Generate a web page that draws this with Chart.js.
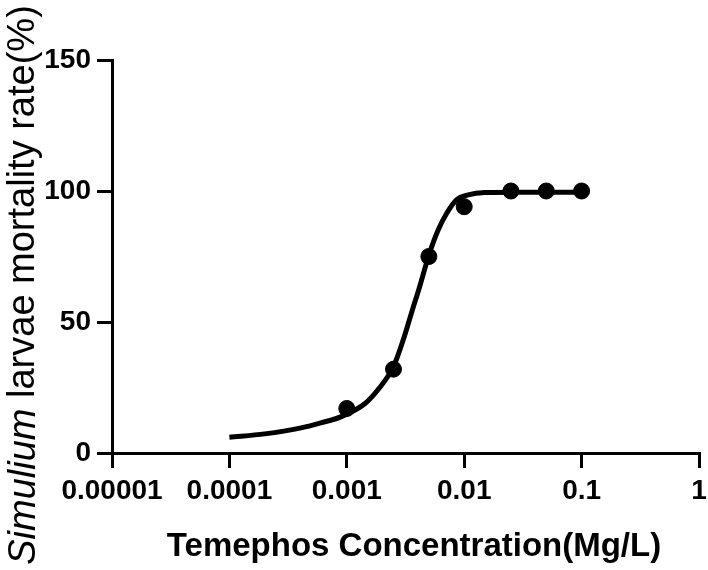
<!DOCTYPE html>
<html lang="en">
<head>
  <meta charset="UTF-8">
  <title>Temephos dose response</title>
  <script src="https://cdn.jsdelivr.net/npm/chart.js"></script>
  <style>
    body { margin: 0; background: #fff; }
    #wrap { width: 708px; height: 570px; }
  </style>
</head>
<body>
<div id="wrap"><canvas id="chart"></canvas></div>
<script>
  // observed points
  const concentration = [0.001, 0.0025, 0.005, 0.01, 0.025, 0.05, 0.1];
  const mortality = [17, 32, 75, 94, 100, 100, 100];

  // fitted curve
  const fitX = [0.0001, 0.0002, 0.0004, 0.0006, 0.0009, 0.00144, 0.00187, 0.0025, 0.00304, 0.00362, 0.00413, 0.005, 0.006, 0.0071, 0.0086, 0.0108, 0.015, 0.03, 0.1];
  const fitY = [6.0, 7.3, 9.5, 11.5, 13.9, 19.0, 24.5, 33.0, 43.5, 54.6, 62.8, 75.5, 85.1, 91.5, 96.6, 98.5, 99.4, 99.5, 99.5];

  const xTicks = [0.00001, 0.0001, 0.001, 0.01, 0.1, 1];
  const xTickLabels = ['0.00001', '0.0001', '0.001', '0.01', '0.1', '1'];
  const yTicks = [0, 50, 100, 150];

  const FONT = 'Liberation Sans, Arial, sans-serif';

  // axis titles: the y one mixes italic and upright text
  const titles = {
    id: 'titles',
    afterDraw(chart) {
      const ctx = chart.ctx;
      ctx.save();
      ctx.fillStyle = '#000';
      ctx.textBaseline = 'middle';

      ctx.font = 'bold 33px ' + FONT;
      ctx.textAlign = 'center';
      ctx.fillText('Temephos Concentration(Mg/L)', 414, 547);

      const a = 'Simulium', b = ' larvae mortality rate(%)';
      ctx.textAlign = 'left';
      ctx.font = 'italic 38px ' + FONT;
      const wa = ctx.measureText(a).width;
      ctx.font = '38px ' + FONT;
      const wb = ctx.measureText(b).width;
      ctx.translate(24, 285);
      ctx.rotate(-Math.PI / 2);
      const x = -(wa + wb) / 2;
      ctx.font = 'italic 38px ' + FONT;
      ctx.fillText(a, x, 0);
      ctx.font = '38px ' + FONT;
      ctx.fillText(b, x + wa, 0);
      ctx.restore();
    }
  };

  const axisGrid = { drawOnChartArea: false, drawTicks: true, tickLength: 15, color: '#000', lineWidth: 3 };
  const axisBorder = { color: '#000', width: 3 };

  new Chart(document.getElementById('chart'), {
    type: 'scatter',
    data: {
      datasets: [
        {
          data: fitX.map((x, i) => ({ x, y: fitY[i] })),
          showLine: true,
          borderColor: '#000',
          borderWidth: 5,
          pointRadius: 0,
          cubicInterpolationMode: 'monotone'
        },
        {
          data: concentration.map((x, i) => ({ x, y: mortality[i] })),
          backgroundColor: '#000',
          borderColor: '#000',
          pointRadius: 8
        }
      ]
    },
    options: {
      responsive: true,
      maintainAspectRatio: false,
      animation: false,
      layout: { padding: { top: 60, right: 5, left: 0, bottom: 0 } },
      plugins: { legend: { display: false }, tooltip: { enabled: false } },
      scales: {
        x: {
          type: 'logarithmic',
          min: 0.00001,
          max: 1,
          grid: axisGrid,
          border: axisBorder,
          afterBuildTicks: s => { s.ticks = xTicks.map(v => ({ value: v })); },
          afterFit: s => { s.height = 117; s.paddingLeft = 0; s.paddingRight = 0; },
          ticks: {
            color: '#000',
            font: { family: FONT, size: 28, weight: 'bold' },
            padding: 6,
            maxRotation: 0,
            callback: (v, i) => xTickLabels[i]
          }
        },
        y: {
          min: 0,
          max: 150,
          grid: axisGrid,
          border: axisBorder,
          afterBuildTicks: s => { s.ticks = yTicks.map(v => ({ value: v })); },
          afterFit: s => { s.width = 112; s.paddingTop = 0; s.paddingBottom = 0; },
          ticks: {
            color: '#000',
            font: { family: FONT, size: 28, weight: 'bold' },
            padding: 6
          }
        }
      }
    },
    plugins: [titles]
  });
</script>
</body>
</html>
